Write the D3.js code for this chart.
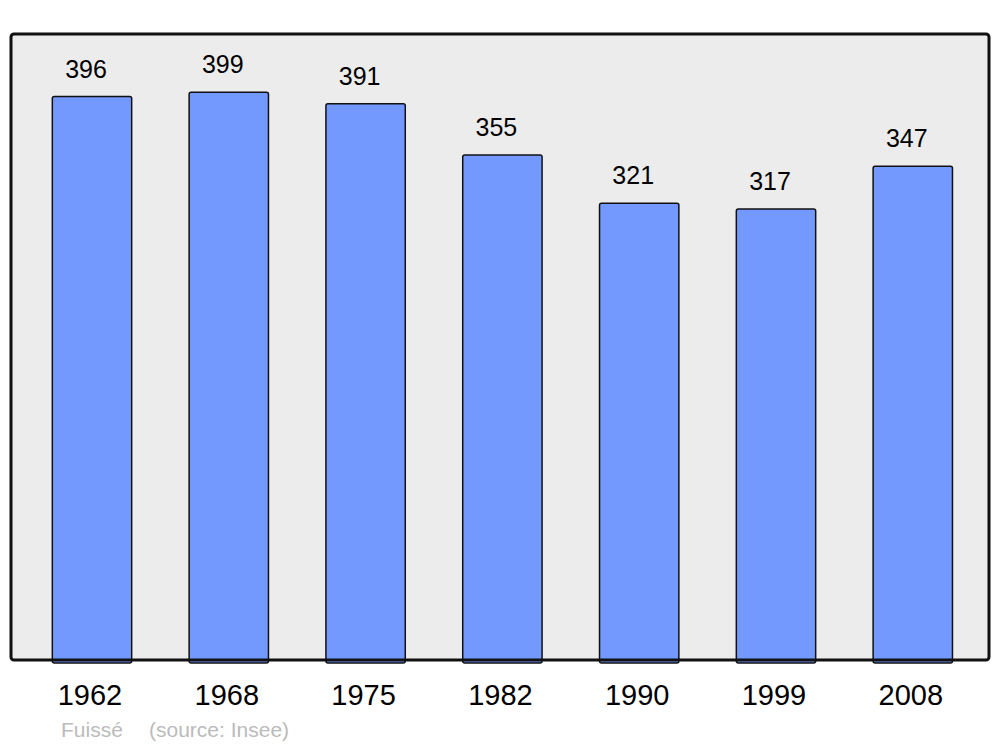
<!DOCTYPE html>
<html>
<head>
<meta charset="utf-8">
<script src="https://cdn.jsdelivr.net/npm/d3@7"></script>
<style>
	body { margin: 0; background: #fff; }
	text { font-family: "Liberation Sans", Arial, sans-serif; }
</style>
</head>
<body>
<svg id="chart" width="1000" height="747"></svg>
<script>
const years = ['1962', '1968', '1975', '1982', '1990', '1999', '2008'];
const population = [396, 399, 391, 355, 321, 317, 347];
const commune = 'Fuissé';
const source = '(source: Insee)';

const width = 1000;
const height = 747;
const panel = {left: 11, top: 34, right: 989, bottom: 660};

let svg = d3.select('#chart');

// panel background
svg.append('rect')
	.attr('x', panel.left)
	.attr('y', panel.top)
	.attr('width', panel.right - panel.left)
	.attr('height', panel.bottom - panel.top)
	.attr('rx', 3)
	.attr('fill', '#ececec');

let x = d3.scaleBand()
	.domain(years)
	.range([23.6, 981.2])
	.paddingInner(0.42)
	.paddingOuter(0.21);

let y = d3.scaleLinear()
	.domain([0, 440])
	.range([panel.bottom, panel.top]);

let data = years.map((year, i) => ({year, value: population[i]}));

// bars
svg.selectAll('rect.bar')
	.data(data)
	.enter()
	.append('rect')
	.attr('class', 'bar')
	.attr('x', d => x(d.year))
	.attr('y', d => y(d.value))
	.attr('width', x.bandwidth())
	.attr('height', d => y(0) - y(d.value) + 3)
	.attr('rx', 2)
	.attr('fill', '#7399ff')
	.attr('stroke', '#111')
	.attr('stroke-width', 1.5);

// value labels
svg.selectAll('text.value')
	.data(data)
	.enter()
	.append('text')
	.attr('class', 'value')
	.attr('x', d => x(d.year) + x.bandwidth() / 2 - 6)
	.attr('y', d => y(d.value) - 19)
	.attr('text-anchor', 'middle')
	.attr('font-size', 25)
	.attr('fill', '#000')
	.text(d => d.value);

// panel border on top of bars
svg.append('rect')
	.attr('x', panel.left)
	.attr('y', panel.top)
	.attr('width', panel.right - panel.left)
	.attr('height', panel.bottom - panel.top)
	.attr('rx', 3)
	.attr('fill', 'none')
	.attr('stroke', '#111')
	.attr('stroke-width', 3);

// year labels
svg.selectAll('text.year')
	.data(years)
	.enter()
	.append('text')
	.attr('class', 'year')
	.attr('x', d => x(d) + x.bandwidth() / 2 - 2)
	.attr('y', 705)
	.attr('text-anchor', 'middle')
	.attr('font-size', 29)
	.attr('fill', '#000')
	.text(d => d);

// footer
svg.append('text')
	.attr('x', 61)
	.attr('y', 737)
	.attr('font-size', 21)
	.attr('fill', '#bbb')
	.text(commune);

svg.append('text')
	.attr('x', 149)
	.attr('y', 737)
	.attr('font-size', 21)
	.attr('fill', '#bbb')
	.text(source);
</script>
</body>
</html>
